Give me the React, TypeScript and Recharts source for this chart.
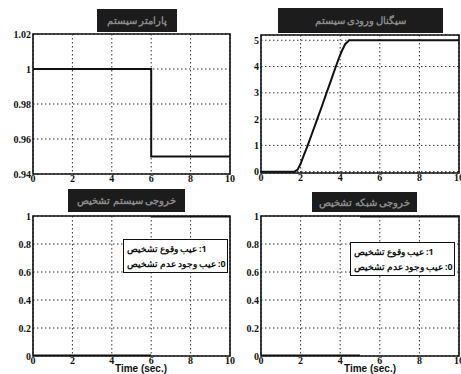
import React from 'react';
import { LineChart, Line, XAxis, YAxis, CartesianGrid, ReferenceArea } from 'recharts';

// ---- data ----
const xTicks = [0, 2, 4, 6, 8, 10];

const paramTime = [0, 6, 6, 10];
const paramValue = [1, 1, 0.95, 0.95];
const paramTicks = [0.94, 0.96, 0.98, 1, 1.02];

const rampTime = [0, 1.7, 1.85, 2.0, 2.15, 2.36, 2.6, 2.84, 3.08, 3.31, 3.55, 3.78, 3.95, 4.1, 4.25, 4.45, 10];
const rampValue = [0, 0, 0.08, 0.3, 0.6, 1, 1.5, 2, 2.5, 3, 3.5, 4, 4.35, 4.62, 4.85, 5, 5];
const rampTicks = [0, 1, 2, 3, 4, 5];

const detTimeA = [0, 6, 10];
const detLowA: (number | null)[] = [0, 0, null];
const detHighA: (number | null)[] = [null, 1, 1];

const detTimeB = [0, 5, 10];
const detLowB: (number | null)[] = [0, 0, null];
const detHighB: (number | null)[] = [null, 1, 1];

const detTicks = [0, 0.2, 0.4, 0.6, 0.8, 1];

const titles = [
  'پارامتر سیستم',
  'سیگنال ورودی سیستم',
  'خروجی سیستم تشخیص',
  'خروجی شبکه تشخیص',
];
const legendRow1 = ['تشخیص', 'وقوع', 'عیب', ':1'];
const legendRow2 = ['تشخیص', 'عدم', 'وجود', 'عیب', ':0'];
const xLabel = 'Time (sec.)';

// ---- build tables ----
const paramData = paramTime.map((t, i) => ({ t, v: paramValue[i] }));
const rampData = rampTime.map((t, i) => ({ t, v: rampValue[i] }));
const detDataA = detTimeA.map((t, i) => ({ t, lo: detLowA[i], hi: detHighA[i] }));
const detDataB = detTimeB.map((t, i) => ({ t, lo: detLowB[i], hi: detHighB[i] }));

const tickStyle = { fontSize: 10, fontWeight: 700, fontFamily: 'Liberation Serif', fill: '#111' };

type PanelProps = {
  left: number; top: number; width: number; height: number;
  mTop: number; yWidth: number; xHeight: number;
  data: any[]; keys: { key: string; w: number }[];
  yDomain: [number, number]; yTicks: number[];
};

function Panel(p: PanelProps) {
  return (
    <div style={{ position: 'absolute', left: p.left, top: p.top }}>
      <LineChart width={p.width + 10} height={p.height} data={p.data}
        margin={{ top: p.mTop, right: 12, bottom: 2, left: 0 }}>
        <CartesianGrid stroke="#333" strokeDasharray="1.5 2.5" strokeWidth={1} />
        <XAxis dataKey="t" type="number" domain={[0, 10]} ticks={xTicks} height={p.xHeight}
          axisLine={false} tickLine={false} tickSize={1} tickMargin={0} tick={tickStyle} interval={0} />
        <YAxis type="number" domain={p.yDomain} ticks={p.yTicks} width={p.yWidth} allowDataOverflow
          axisLine={false} tickLine={false} tickSize={2} tickMargin={0} tick={tickStyle} interval={0} />
        <ReferenceArea x1={0} x2={10} y1={p.yDomain[0]} y2={p.yDomain[1]} fill="none"
          stroke="#111" strokeWidth={1.6} fillOpacity={0} />
        {p.keys.map(k => (
          <Line key={k.key} dataKey={k.key} type="linear" stroke="#111" strokeWidth={k.w}
            dot={false} isAnimationActive={false} connectNulls={false} />
        ))}
      </LineChart>
    </div>
  );
}

function TitleBox({ left, top, width, height, text }: { left: number; top: number; width: number; height: number; text: string }) {
  return (
    <div style={{
      position: 'absolute', left, top, width, height, background: '#1c1c1c',
      color: '#8a8a8a', fontFamily: 'Noto Sans', fontSize: 9.5, fontWeight: 700,
      display: 'flex', alignItems: 'center', justifyContent: 'center', overflow: 'hidden',
      direction: 'rtl', whiteSpace: 'nowrap',
    }}>{text}</div>
  );
}

function Row({ words }: { words: string[] }) {
  return (
    <div style={{ display: 'flex', flexDirection: 'row', direction: 'ltr', gap: 2, alignItems: 'center', height: 15, whiteSpace: 'nowrap' }}>
      {words.map((w, i) => (
        <span key={i} style={{ display: 'inline-block', unicodeBidi: 'isolate', direction: w.startsWith(':') ? 'ltr' : 'rtl' }}>{w}</span>
      ))}
    </div>
  );
}

function LegendBox({ left, top }: { left: number; top: number }) {
  return (
    <div style={{
      position: 'absolute', left, top, width: 105, height: 34, border: '1px solid #111',
      background: '#fff', boxSizing: 'border-box', padding: '1px 3px', direction: 'ltr',
      fontFamily: 'Noto Sans', fontSize: 8.8, fontWeight: 700, color: '#111', overflow: 'hidden',
    }}>
      <Row words={legendRow1} />
      <Row words={legendRow2} />
    </div>
  );
}

function XLabel({ cx }: { cx: number }) {
  return (
    <div style={{
      position: 'absolute', left: cx - 40, top: 364, width: 80, textAlign: 'center',
      fontFamily: 'Liberation Sans', fontWeight: 700, fontSize: 10, lineHeight: '10px', color: '#111',
    }}>{xLabel}</div>
  );
}

export default function App() {
  return (
    <div style={{ position: 'absolute', left: 0, top: 0, width: 461, height: 374, background: '#fff', overflow: 'hidden' }}>
      <Panel left={0} top={0} width={232} height={190} mTop={34} yWidth={33} xHeight={14}
        data={paramData} keys={[{ key: 'v', w: 2 }]} yDomain={[0.94, 1.02]} yTicks={paramTicks} />
      <Panel left={230} top={0} width={231} height={190} mTop={35} yWidth={31} xHeight={15}
        data={rampData} keys={[{ key: 'v', w: 2 }]} yDomain={[-0.05, 5.2]} yTicks={rampTicks} />
      <Panel left={0} top={187} width={232} height={187} mTop={29} yWidth={33} xHeight={16}
        data={detDataA} keys={[{ key: 'lo', w: 3 }, { key: 'hi', w: 3 }]} yDomain={[0, 1]} yTicks={detTicks} />
      <Panel left={230} top={187} width={231} height={187} mTop={29} yWidth={31} xHeight={16}
        data={detDataB} keys={[{ key: 'lo', w: 3 }, { key: 'hi', w: 3 }]} yDomain={[0, 1]} yTicks={detTicks} />

      <TitleBox left={97} top={9} width={80} height={23} text={titles[0]} />
      <TitleBox left={278} top={8} width={165} height={25} text={titles[1]} />
      <TitleBox left={68} top={189} width={117} height={23} text={titles[2]} />
      <TitleBox left={312} top={192} width={105} height={20} text={titles[3]} />

      <LegendBox left={123} top={239} />
      <LegendBox left={350} top={242} />

      <XLabel cx={141} />
      <XLabel cx={370} />
    </div>
  );
}
